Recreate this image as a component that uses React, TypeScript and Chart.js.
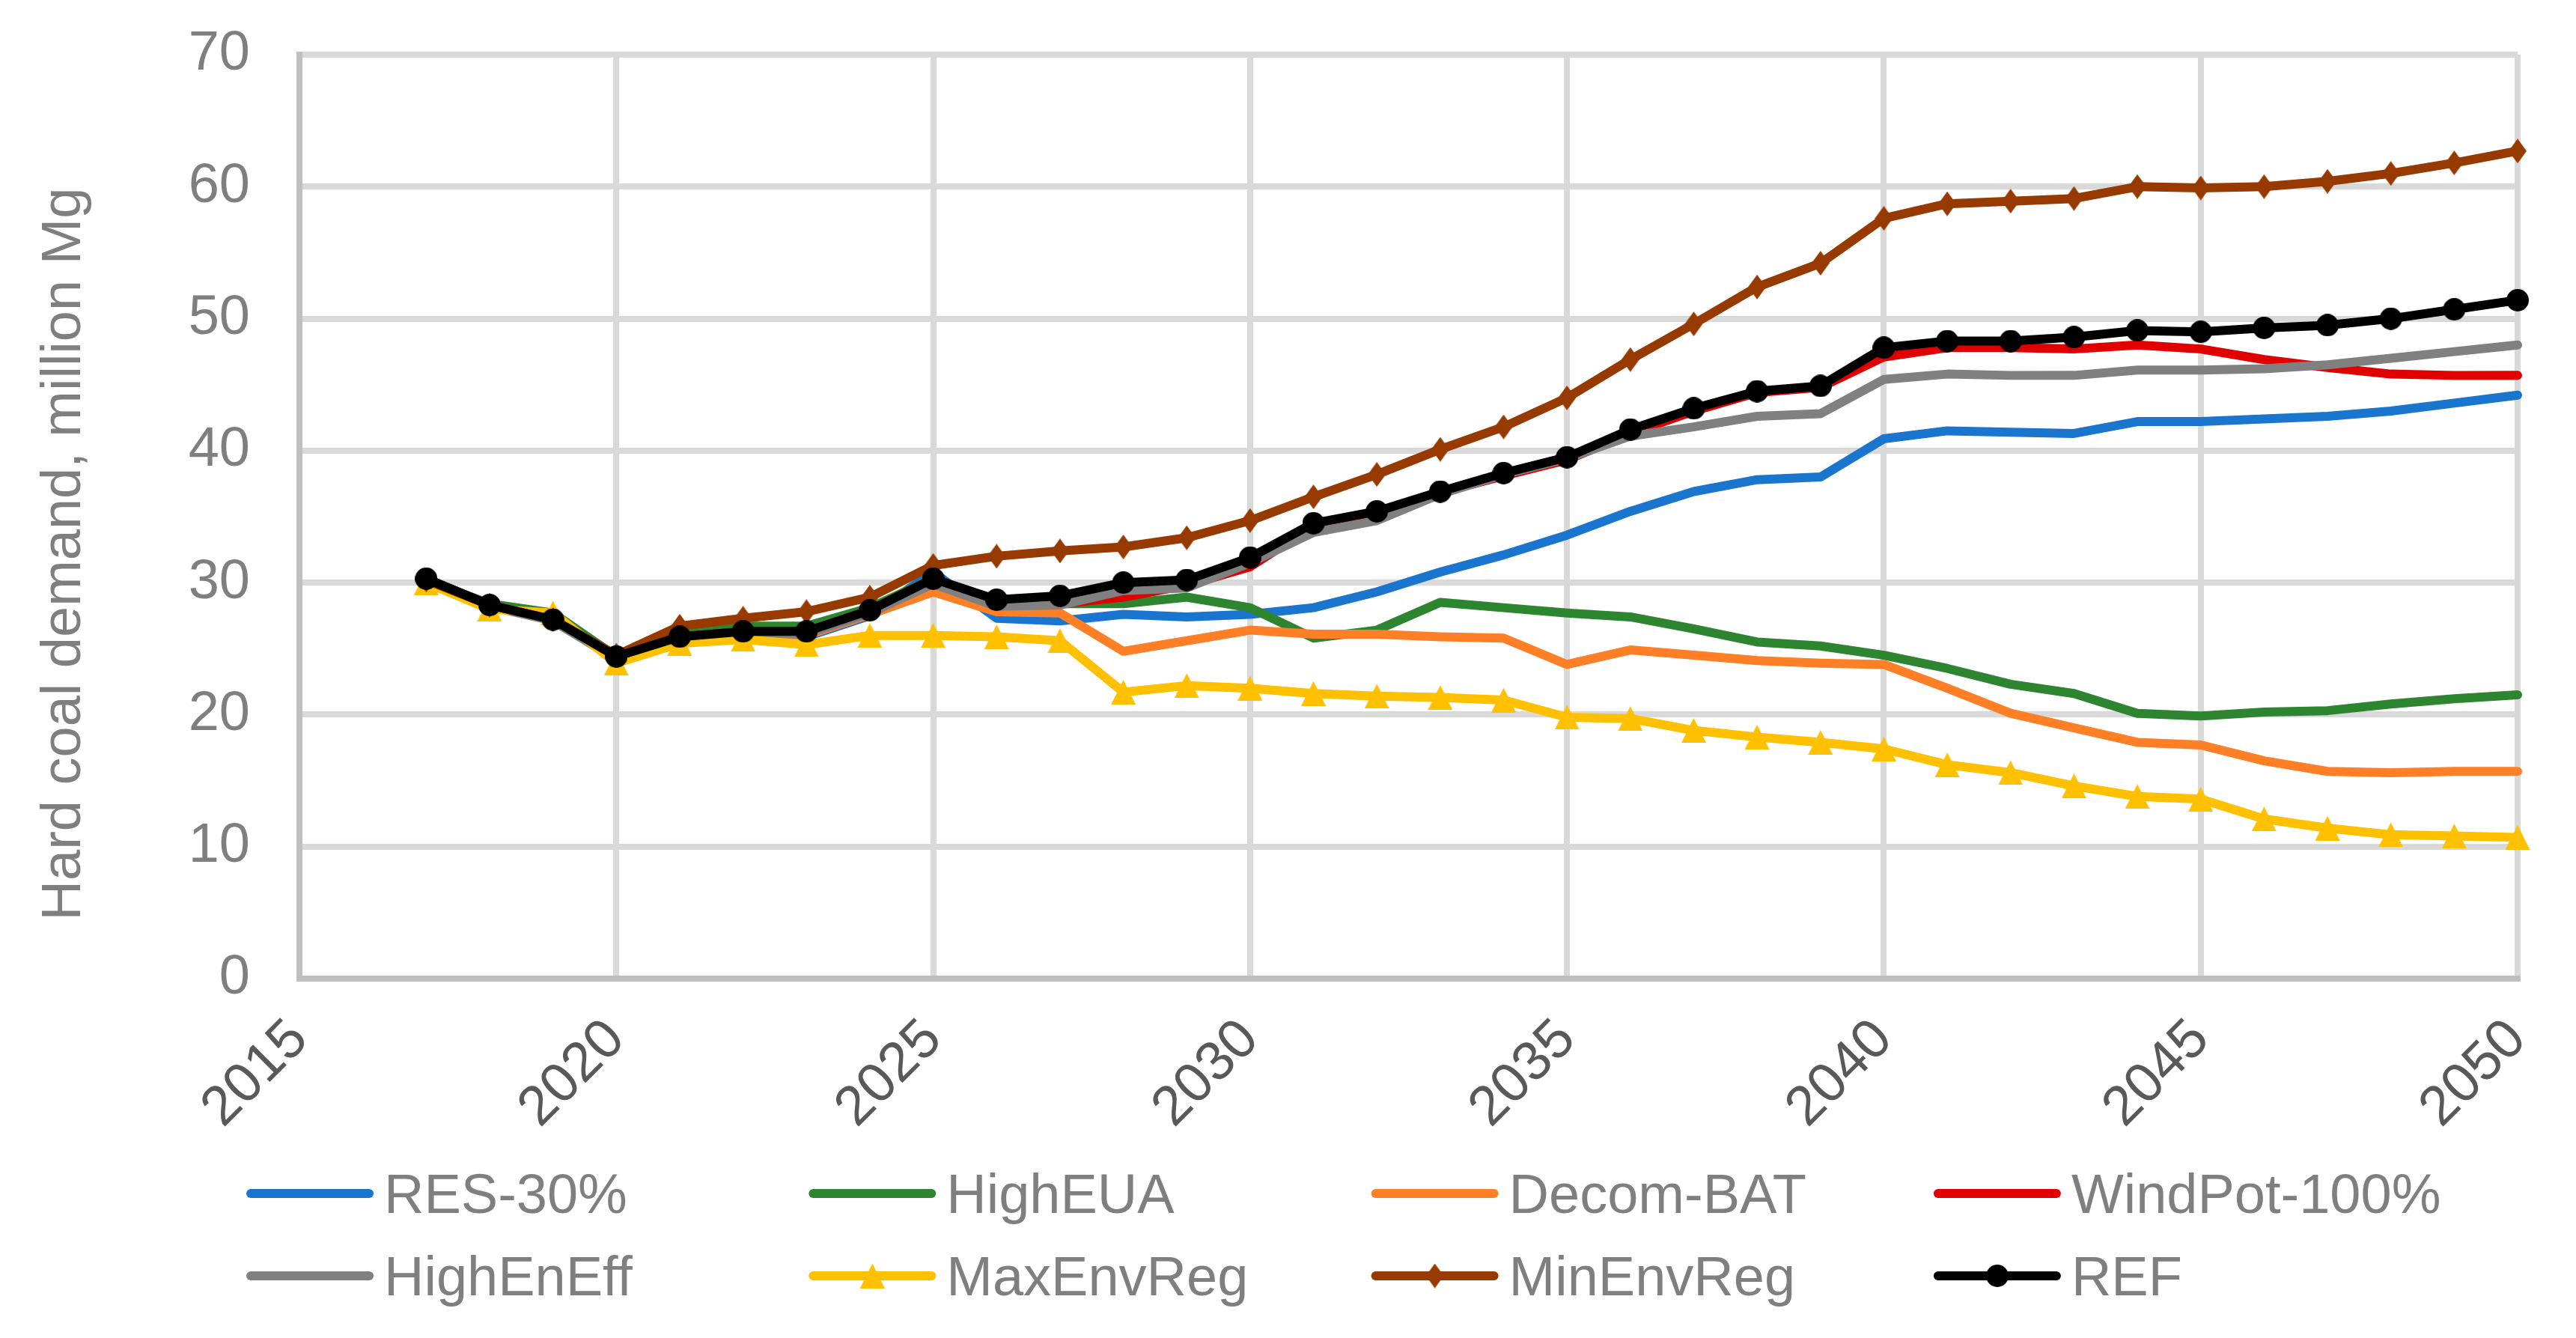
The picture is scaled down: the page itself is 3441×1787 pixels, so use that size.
import React, { useEffect, useRef } from "react";
import { Chart, registerables } from "chart.js";

Chart.register(...registerables);

const FONT = "'Liberation Sans', Arial, Helvetica, sans-serif";

const years = [
  2017, 2018, 2019, 2020, 2021, 2022, 2023, 2024, 2025, 2026,
  2027, 2028, 2029, 2030, 2031, 2032, 2033, 2034, 2035, 2036,
  2037, 2038, 2039, 2040, 2041, 2042, 2043, 2044, 2045, 2046,
  2047, 2048, 2049, 2050,
];

const xTickYears = [2015, 2020, 2025, 2030, 2035, 2040, 2045, 2050];
const yTicks = [0, 10, 20, 30, 40, 50, 60, 70];

const seriesNames = ["RES-30%", "HighEUA", "Decom-BAT", "WindPot-100%", "HighEnEff", "MaxEnvReg", "MinEnvReg", "REF"];

const res30 = [
  30.3, 28.3, 27.2, 24.4, 25.9, 26.2, 25.9, 27.5, 30.8, 27.3,
  27.1, 27.6, 27.4, 27.6, 28.1, 29.3, 30.8, 32.1, 33.6, 35.4,
  36.9, 37.8, 38.0, 40.9, 41.5, 41.4, 41.3, 42.2, 42.2, 42.4,
  42.6, 43.0, 43.6, 44.2,
];

const highEUA = [
  30.2, 28.4, 27.7, 24.4, 26.1, 26.7, 26.7, 28.1, 30.3, 28.3,
  28.4, 28.4, 28.9, 28.1, 25.8, 26.4, 28.5, 28.1, 27.7, 27.4,
  26.5, 25.5, 25.2, 24.5, 23.5, 22.3, 21.6, 20.1, 19.9, 20.2,
  20.3, 20.8, 21.2, 21.5,
];

const decomBAT = [
  30.2, 28.3, 27.2, 24.3, 25.8, 26.0, 26.0, 27.6, 29.3, 27.8,
  27.7, 24.8, 25.6, 26.4, 26.1, 26.1, 25.9, 25.8, 23.8, 24.9,
  24.5, 24.1, 23.9, 23.8, 22.0, 20.1, 19.0, 17.9, 17.7, 16.5,
  15.7, 15.6, 15.7, 15.7,
];

const windPot100 = [
  30.3, 28.3, 27.2, 24.4, 25.9, 26.3, 26.3, 27.9, 30.2, 28.4,
  28.4, 28.9, 29.8, 31.2, 34.3, 35.2, 36.8, 38.1, 39.3, 41.3,
  43.0, 44.4, 44.8, 47.1, 47.8, 47.8, 47.7, 48.0, 47.7, 46.9,
  46.3, 45.8, 45.7, 45.7,
];

const highEnEff = [
  30.2, 28.2, 27.1, 24.2, 25.8, 26.2, 26.1, 27.7, 29.9, 28.2,
  28.3, 29.4, 29.6, 31.5, 33.8, 34.7, 36.7, 38.2, 39.4, 41.1,
  41.8, 42.6, 42.8, 45.4, 45.8, 45.7, 45.7, 46.1, 46.1, 46.2,
  46.5, 47.0, 47.5, 48.0,
];

const maxEnvReg = [
  30.0, 28.0, 27.7, 23.9, 25.4, 25.7, 25.3, 26.0, 26.0, 25.9,
  25.6, 21.7, 22.2, 22.0, 21.6, 21.4, 21.3, 21.1, 19.8, 19.7,
  18.8, 18.3, 17.9, 17.4, 16.2, 15.6, 14.6, 13.8, 13.6, 12.1,
  11.4, 10.9, 10.8, 10.7,
];

const minEnvReg = [
  30.2, 28.3, 27.2, 24.5, 26.7, 27.3, 27.8, 28.9, 31.3, 32.0,
  32.4, 32.7, 33.4, 34.7, 36.5, 38.2, 40.1, 41.8, 44.0, 46.9,
  49.6, 52.4, 54.2, 57.6, 58.7, 58.9, 59.1, 60.0, 59.9, 60.0,
  60.4, 61.0, 61.8, 62.7,
];

const refSeries = [
  30.3, 28.3, 27.2, 24.4, 25.9, 26.3, 26.3, 27.9, 30.3, 28.7,
  29.0, 30.0, 30.2, 31.9, 34.5, 35.4, 36.9, 38.3, 39.5, 41.6,
  43.2, 44.5, 44.9, 47.8, 48.3, 48.3, 48.6, 49.1, 49.0, 49.3,
  49.5, 50.0, 50.7, 51.4,
];

const seriesColors = ["#1A75CF", "#2E8530", "#FF7F27", "#E00000", "#808080", "#FFC000", "#973A00", "#000000"];
const seriesMarkers: (string | null)[] = [null, null, null, null, null, "triangle", "diamond", "circle"];
const yTitle = "Hard coal demand, million Mg";

function makeMarker(style: string, color: string): HTMLCanvasElement {
  const c = document.createElement("canvas");
  let w = 30, h = 30;
  if (style === "triangle") { w = 33; h = 33; }
  if (style === "diamond") { w = 24; h = 33; }
  c.width = w;
  c.height = h;
  const g = c.getContext("2d")!;
  g.fillStyle = color;
  g.beginPath();
  if (style === "circle") {
    g.arc(w / 2, h / 2, w / 2, 0, Math.PI * 2);
  } else if (style === "triangle") {
    g.moveTo(w / 2, 0);
    g.lineTo(w, h);
    g.lineTo(0, h);
    g.closePath();
  } else {
    g.moveTo(w / 2, 0);
    g.lineTo(w, h / 2);
    g.lineTo(w / 2, h);
    g.lineTo(0, h / 2);
    g.closePath();
  }
  g.fill();
  return c;
}

function zeroPad(s: any) {
  s.paddingTop = 0;
  s.paddingBottom = 0;
  s.paddingLeft = 0;
  s.paddingRight = 0;
}

export default function App() {
  const canvasRef = useRef<HTMLCanvasElement>(null);

  useEffect(() => {
    if (!canvasRef.current) return;
    const values = [res30, highEUA, decomBAT, windPot100, highEnEff, maxEnvReg, minEnvReg, refSeries];
    const markerImgs = seriesMarkers.map((mk, i) => (mk ? makeMarker(mk, seriesColors[i]) : null));

    const datasets = values.map((vals, i) => {
      const img = markerImgs[i];
      return {
        label: seriesNames[i],
        data: years.map((yr, j) => ({ x: yr, y: vals[j] })),
        borderColor: seriesColors[i],
        backgroundColor: seriesColors[i],
        borderWidth: 12,
        borderJoinStyle: "round" as const,
        borderCapStyle: "round" as const,
        pointStyle: (img || "circle") as any,
        pointRadius: img ? 16 : 0,
        pointHoverRadius: img ? 16 : 0,
        pointBorderWidth: 0,
        pointBackgroundColor: seriesColors[i],
        tension: 0,
        clip: false as any,
        order: values.length - i,
      };
    });

    const customPlugin = {
      id: "customDecor",
      afterDraw(chart: any) {
        const ctx: CanvasRenderingContext2D = chart.ctx;
        // y-axis title
        ctx.save();
        ctx.translate(107, 740);
        ctx.rotate(-Math.PI / 2);
        ctx.font = `74px ${FONT}`;
        ctx.fillStyle = "#7F7F7F";
        ctx.textAlign = "center";
        ctx.textBaseline = "alphabetic";
        ctx.fillText(yTitle, 0, 0);
        ctx.restore();

        // legend (2 rows x 4 columns)
        ctx.save();
        chart.data.datasets.forEach((ds: any, i: number) => {
          const col = i % 4;
          const row = Math.floor(i / 4);
          const x0 = 329 + col * 751.3;
          const y0 = 1594 + row * 110;
          ctx.strokeStyle = ds.borderColor;
          ctx.lineWidth = 12;
          ctx.lineCap = "round";
          ctx.beginPath();
          ctx.moveTo(x0 + 6, y0);
          ctx.lineTo(x0 + 164, y0);
          ctx.stroke();
          const img = markerImgs[i];
          if (img) ctx.drawImage(img, x0 + 85 - img.width / 2, y0 - img.height / 2);
          ctx.font = `74px ${FONT}`;
          ctx.fillStyle = "#7F7F7F";
          ctx.textAlign = "left";
          ctx.textBaseline = "alphabetic";
          ctx.fillText(ds.label, x0 + 184, y0 + 26);
        });
        ctx.restore();
      },
    };

    const chart = new Chart(canvasRef.current, {
      type: "line",
      data: { datasets },
      options: {
        animation: false,
        responsive: false,
        devicePixelRatio: 1,
        layout: { padding: { left: 0, right: 78, top: 73, bottom: 260 } },
        plugins: {
          legend: { display: false },
          tooltip: { enabled: false },
          title: { display: false },
        },
        scales: {
          x: {
            type: "linear",
            min: 2015,
            max: 2050,
            afterBuildTicks: (s: any) => {
              s.ticks = xTickYears.map((v) => ({ value: v }));
            },
            afterFit: (s: any) => {
              s.height = 220;
              zeroPad(s);
            },
            ticks: {
              color: "#595959",
              font: { size: 74, family: FONT },
              minRotation: 45,
              maxRotation: 45,
              padding: 38,
              autoSkip: false,
              callback: (v: any) => String(v),
            },
            grid: { color: "#D9D9D9", lineWidth: 8, drawTicks: false },
            border: { color: "#BFBFBF", width: 8 },
          },
          y: {
            type: "linear",
            min: 0,
            max: 70,
            afterBuildTicks: (s: any) => {
              s.ticks = yTicks.map((v) => ({ value: v }));
            },
            afterFit: (s: any) => {
              s.width = 400;
              zeroPad(s);
            },
            ticks: {
              color: "#7F7F7F",
              font: { size: 74, family: FONT },
              padding: 66,
              callback: (v: any) => String(v),
            },
            grid: { color: "#D9D9D9", lineWidth: 8, drawTicks: false },
            border: { color: "#BFBFBF", width: 8 },
          },
        },
      },
      plugins: [customPlugin],
    });

    return () => chart.destroy();
  }, []);

  return (
    <div style={{ position: "absolute", left: 0, top: 0, width: 3441, height: 1787, background: "#ffffff" }}>
      <canvas ref={canvasRef} width={3441} height={1787} style={{ display: "block", width: 3441, height: 1787 }} />
    </div>
  );
}
